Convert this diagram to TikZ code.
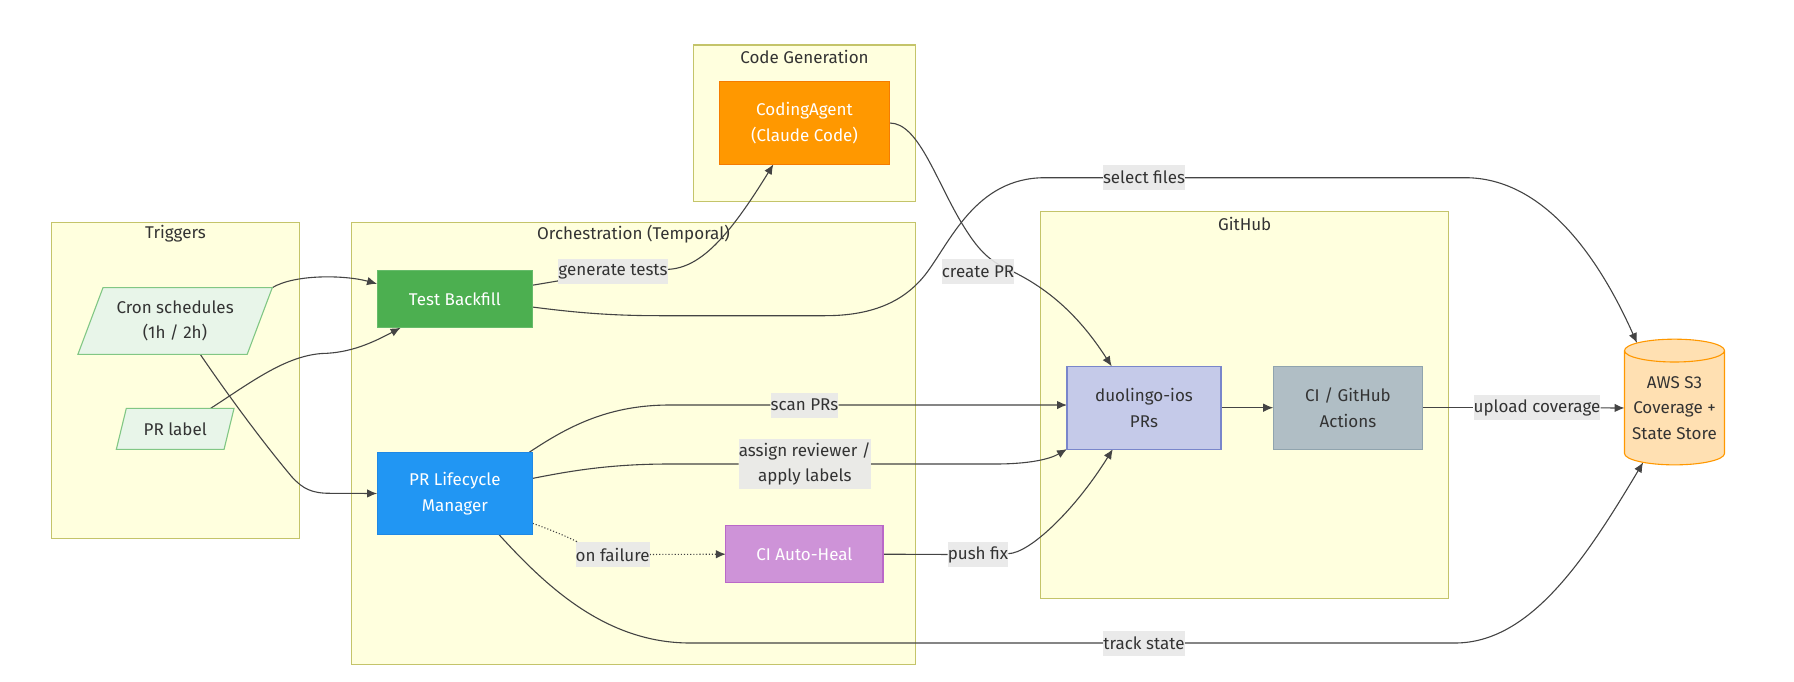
\documentclass[tikz,border=0pt]{standalone}
\usepackage{fontspec}
\setmainfont{Fira Sans}
\usetikzlibrary{shapes.geometric}
\usetikzlibrary{arrows.meta}
\pgfdeclarelayer{boxes}
\pgfdeclarelayer{edges}
\pgfsetlayers{boxes,edges,main}
\definecolor{inktext}{HTML}{333333}
\definecolor{edgeink}{HTML}{444444}
\definecolor{clusterline}{HTML}{C4C46A}
\definecolor{clusterfill}{HTML}{FFFFDE}
\definecolor{inputfill}{HTML}{E8F5E9}
\definecolor{inputline}{HTML}{81C784}
\definecolor{labelgrey}{HTML}{E8E8E8}
\tikzset{
  basetext/.style={font=\fontsize{17}{25.7}\selectfont,text=inktext,align=center},
  cluster/.style={draw=clusterline,fill=clusterfill,line width=1.1pt,inner sep=0pt},
  clustertitle/.style={basetext},
  proc/.style={basetext,draw,line width=1.1pt,inner sep=0pt,outer sep=0pt},
  whiteproc/.style={proc,text=white},
  slanted/.style={basetext,trapezium,trapezium left angle=63.5,trapezium right angle=116.5,
    trapezium stretches=true,fill=inputfill,draw=inputline,
    line width=1.1pt,inner sep=0pt,outer sep=0pt},
  edgelabel/.style={basetext,fill=labelgrey,fill opacity=0.9,text opacity=1,inner xsep=0pt,inner ysep=0pt,minimum height=25pt},
  link/.style={draw=edgeink,line width=1.1pt},
  arrowlink/.style={link,-{Latex[length=10pt,width=8.5pt]}},
}
\begin{document}
\begin{tikzpicture}[x=1pt,y=-1pt]
    \useasboundingbox (0,0) rectangle (1794,682);
    % Clusters
    \begin{pgfonlayer}{boxes}
    \node[cluster,minimum width=247.6pt,minimum height=316pt] (trigbox) at (175.5,380.1) {};
    \node[cluster,minimum width=564.3pt,minimum height=441.7pt] (orchbox) at (633.5,443.2) {};
    \node[cluster,minimum width=222.3pt,minimum height=156.3pt] (codebox) at (804.5,123.2) {};
    \node[cluster,minimum width=407.9pt,minimum height=387pt] (ghbox) at (1244.7,405.2) {};
    \node[clustertitle] (trigtitle) at (175.5,234) {Triggers};
    \node[clustertitle] (orchtitle) at (633.5,234.3) {Orchestration (Temporal)};
    \node[clustertitle] (codetitle) at (804.5,57.3) {Code Generation};
    \node[clustertitle] (ghtitle) at (1244.7,223.5) {GitHub};
    \end{pgfonlayer}
    % Triggers
    \node[slanted,minimum width=194.8pt,minimum height=66.7pt] (cron) at (175.1,321) {Cron schedules\\(1h / 2h)};
    \node[slanted,minimum width=118.2pt,minimum height=41pt] (prlabel) at (175.2,428.8) {PR label};
    % Boxes
    \node[whiteproc,fill={rgb,255:red,76;green,175;blue,80},draw={rgb,255:red,102;green,187;blue,106},minimum width=155.7pt,minimum height=57.7pt] (test) at (454.9,298.9) {Test Backfill};
    \node[whiteproc,fill={rgb,255:red,33;green,150;blue,243},draw={rgb,255:red,30;green,136;blue,229},minimum width=155.7pt,minimum height=82.4pt] (lifecycle) at (454.9,493.5) {PR Lifecycle\\Manager};
    \node[whiteproc,fill={rgb,255:red,255;green,152;blue,0},draw={rgb,255:red,245;green,124;blue,0},minimum width=170.3pt,minimum height=82.6pt] (coding) at (804.5,123) {CodingAgent\\(Claude Code)};
    \node[whiteproc,fill={rgb,255:red,206;green,147;blue,216},draw={rgb,255:red,186;green,104;blue,200},minimum width=157.2pt,minimum height=57pt] (heal) at (804.4,554.2) {CI Auto-Heal};
    \node[proc,fill={rgb,255:red,197;green,202;blue,233},draw={rgb,255:red,121;green,134;blue,203},minimum width=154pt,minimum height=82.7pt] (duo) at (1144,407.7) {duolingo-ios\\PRs};
    \node[proc,fill={rgb,255:red,176;green,190;blue,197},draw={rgb,255:red,144;green,164;blue,174},minimum width=149.6pt,minimum height=82.7pt] (ci) at (1348,407.7) {CI / GitHub\\Actions};
    \node[basetext,cylinder,shape border rotate=90,aspect=0.27,draw={rgb,255:red,255;green,152;blue,0},fill={rgb,255:red,255;green,224;blue,178},line width=1.1pt,inner sep=0pt,outer sep=0pt,minimum width=100pt,minimum height=125.7pt] (store) at (1674.5,408) {AWS S3\\Coverage +\\State Store};
    % Edge labels
    \node[edgelabel] (gen) at (613,271.7) {generate tests};
    \node[edgelabel] (create) at (978,271.7) {create PR};
    \node[edgelabel] (select) at (1144,177.7) {select files};
    \node[edgelabel] (scan) at (804.5,405) {scan PRs};
    \node[edgelabel,minimum height=50.3pt] (assign) at (804.8,464) {assign reviewer /\\apply labels};
    \node[edgelabel] (fail) at (612.7,554.6) {on failure};
    \node[edgelabel] (push) at (978,554.6) {push fix};
    \node[edgelabel] (track) at (1144,643) {track state};
    \node[edgelabel] (upload) at (1537,407.7) {upload coverage};
    % Connectors
    \begin{pgfonlayer}{edges}
    \draw[arrowlink] (cron.top right corner) .. controls (295,274) and (345,275) .. (test.169);
    \draw[arrowlink] (prlabel.30) .. controls (250,383) and (285,356) .. (322,353.5) .. controls (350,353) and (372,343) .. (test.208);
    \draw[arrowlink] (cron.-53) .. controls (230,398) and (265,445) .. (292,477) .. controls (303,489) and (312,493.3) .. (330,493.3) -- (lifecycle.west);
    \draw[link] (test.10) -- (gen);
    \draw[arrowlink] (gen) .. controls (700,268) and (728,238) .. (coding.233);
    \draw[arrowlink] (test.-6) .. controls (575,312.5) and (610,315.7) .. (660,315.7) -- (825,315.7) .. controls (875,315.7) and (905,300) .. (925,275) .. controls (950,243) and (975,177.7) .. (1045,177.7) -- (select) -- (1465,177.7) .. controls (1545,177.7) and (1600,260) .. (store.120);
    \draw[arrowlink] (coding.east) .. controls (918,123) and (935,178) .. (961,222) .. controls (975,245) and (985,258) .. (1005,268) .. controls (1055,290) and (1085,325) .. (duo.128);
    \draw[arrowlink] (lifecycle.29) .. controls (570,425) and (610,405) .. (670,405) -- (scan) -- (duo.178);
    \draw[arrowlink] (lifecycle.11) .. controls (570,471) and (610,464) .. (670,464) -- (assign) -- (995,464) .. controls (1030,464) and (1050,459) .. (duo.south west);
    \draw[link,dotted] (lifecycle.-21) .. controls (560,533) and (585,545) .. (fail);
    \draw[arrowlink,dotted] (fail) -- (heal.west);
    \draw[link] (heal.east) -- (push);
    \draw[arrowlink] (push) .. controls (1030,553) and (1075,510) .. (duo.233);
    \draw[arrowlink] (lifecycle.-43) .. controls (545,585) and (605,643) .. (690,643) -- (track) -- (1455,643) .. controls (1530,643) and (1585,560) .. (store.240);
    \draw[arrowlink] (duo.east) -- (ci.west);
    \draw[link] (ci.east) -- (upload);
    \draw[arrowlink] (upload) -- (store.west);
    \end{pgfonlayer}
\end{tikzpicture}
\end{document}
